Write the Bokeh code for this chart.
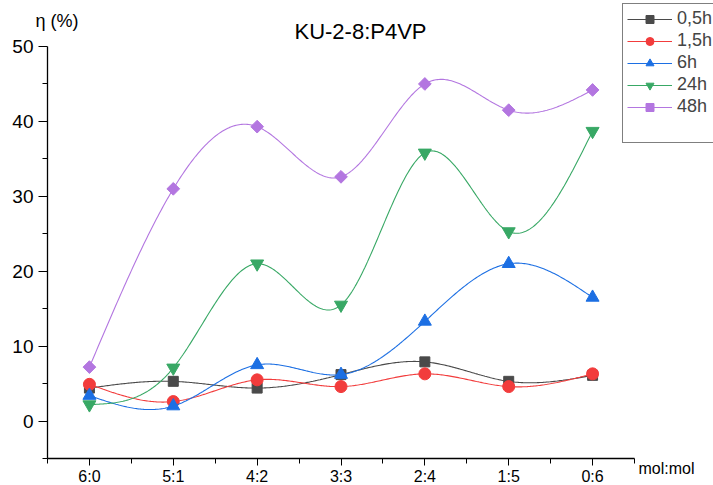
import numpy as np
from bokeh.plotting import figure
from bokeh.models import (Range1d, FixedTicker, Legend, LegendItem, Label)
from bokeh.embed import file_html
from bokeh.resources import INLINE

categories = ["6:0", "5:1", "4:2", "3:3", "2:4", "1:5", "0:6"]
series_names = ["0,5h", "1,5h", "6h", "24h", "48h"]
v_05h = [4.4, 5.3, 4.4, 6.2, 7.9, 5.3, 6.1]
v_15h = [4.9, 2.6, 5.5, 4.6, 6.3, 4.6, 6.3]
v_6h = [3.4, 2.0, 7.5, 6.2, 13.3, 21.0, 16.5]
v_24h = [2.2, 7.1, 21.0, 15.5, 35.8, 25.3, 38.7]
v_48h = [7.2, 31.0, 39.3, 32.6, 45.0, 41.5, 44.2]
y_ticks = [0, 10, 20, 30, 40, 50]

FONT = "Liberation Sans"

# frame geometry (pixels) used to map the whole canvas onto data space
W, H = 713, 485
AX_L, AX_R, AX_T, AX_B = 47, 634, 46, 458
X0, X1, Y0, Y1 = -0.5, 6.5, -5.0, 50.0
sx_ = (AX_R - AX_L) / (X1 - X0)
sy_ = (AX_B - AX_T) / (Y1 - Y0)


def px_x(px):
    return X0 + (px - AX_L) / sx_


def px_y(py):
    return Y1 + (AX_T - py) / sy_


def natural_spline(xs, ys, n=60):
    xs = np.asarray(xs, float)
    ys = np.asarray(ys, float)
    m = len(xs)
    h = np.diff(xs)
    A = np.zeros((m, m))
    b = np.zeros(m)
    A[0, 0] = 1
    A[-1, -1] = 1
    for i in range(1, m - 1):
        A[i, i - 1] = h[i - 1]
        A[i, i] = 2 * (h[i - 1] + h[i])
        A[i, i + 1] = h[i]
        b[i] = 3 * ((ys[i + 1] - ys[i]) / h[i] - (ys[i] - ys[i - 1]) / h[i - 1])
    c = np.linalg.solve(A, b)
    ox, oy = [], []
    for i in range(m - 1):
        bb = (ys[i + 1] - ys[i]) / h[i] - h[i] * (2 * c[i] + c[i + 1]) / 3
        d = (c[i + 1] - c[i]) / (3 * h[i])
        t = np.linspace(0, h[i], n, endpoint=(i == m - 2))
        ox.extend(xs[i] + t)
        oy.extend(ys[i] + bb * t + c[i] * t ** 2 + d * t ** 3)
    return ox, oy


p = figure(width=W, height=H, output_backend="svg", toolbar_location=None,
           x_range=Range1d(px_x(0), px_x(W)), y_range=Range1d(px_y(H), px_y(0)),
           min_border_left=0, min_border_right=0, min_border_top=0, min_border_bottom=0)
p.outline_line_color = None
p.grid.visible = False
p.background_fill_color = "white"
p.border_fill_color = "white"

xidx = list(range(len(categories)))
p.xaxis.ticker = FixedTicker(ticks=xidx, minor_ticks=[i - 0.5 for i in range(len(categories) + 1)])
p.xaxis.major_label_overrides = {i: c for i, c in enumerate(categories)}
p.xaxis.fixed_location = Y0
p.xaxis.bounds = (X0, X1)
p.yaxis.ticker = FixedTicker(ticks=y_ticks, minor_ticks=[-5, 5, 15, 25, 35, 45])
p.yaxis.fixed_location = X0
p.yaxis.bounds = (Y0, Y1)
for ax in (p.xaxis, p.yaxis):
    ax.axis_line_color = "black"
    ax.axis_line_width = 1.3
    ax.major_tick_line_color = "black"
    ax.minor_tick_line_color = "black"
    ax.major_tick_in = 0
    ax.minor_tick_in = 0
    ax.minor_tick_out = 5
    ax.major_label_text_font = FONT
    ax.major_label_text_color = "black"
p.xaxis.major_tick_out = 7
p.yaxis.major_tick_out = 9
p.xaxis.major_label_text_font_size = "16px"
p.yaxis.major_label_text_font_size = "19px"
p.xaxis.major_label_standoff = 2
p.yaxis.major_label_standoff = 5

specs = [
    (v_05h, "#4a4a4a", "square", 10, 0.0),
    (v_15h, "#f23c3c", "circle", 12, 0.0),
    (v_6h, "#1c6fe3", "triangle", 13, 0.0),
    (v_24h, "#38a865", "inverted_triangle", 13, 0.0),
    (v_48h, "#b376e0", "square", 9, np.pi / 4),
]
items = []
for name, (vals, col, mk, sz, ang) in zip(series_names, specs):
    sx, sy = natural_spline(xidx, vals)
    ln = p.line(sx, sy, line_color=col, line_width=1.1)
    sc = p.scatter(xidx, vals, marker=mk, size=sz, angle=ang, fill_color=col, line_color=col)
    items.append(LegendItem(label=name, renderers=[ln, sc]))

dummy = p.line([0, 0], [0, 0], line_alpha=0)
items.append(LegendItem(label=" ", renderers=[dummy]))

legend = Legend(items=items, location=(622, 342), orientation="vertical",
                label_text_font=FONT, label_text_font_size="18px",
                glyph_width=45, glyph_height=20, label_height=20, spacing=1,
                padding=4, margin=0, label_standoff=5,
                border_line_color="black", border_line_width=1.2,
                background_fill_color="white", background_fill_alpha=1)
p.add_layout(legend, "center")

p.add_layout(Label(x=px_x(360), y=px_y(31), text="KU-2-8:P4VP", text_font=FONT,
                   text_font_size="22px", text_align="center", text_baseline="middle",
                   text_color="black"))
p.add_layout(Label(x=px_x(35), y=px_y(20), text="η (%)", text_font=FONT,
                   text_font_size="18px", text_align="left", text_baseline="middle",
                   text_color="black"))
p.add_layout(Label(x=px_x(638), y=px_y(468), text="mol:mol", text_font=FONT,
                   text_font_size="16px", text_align="left", text_baseline="middle",
                   text_color="black"))

open("out.html", "w").write(file_html(p, INLINE))
